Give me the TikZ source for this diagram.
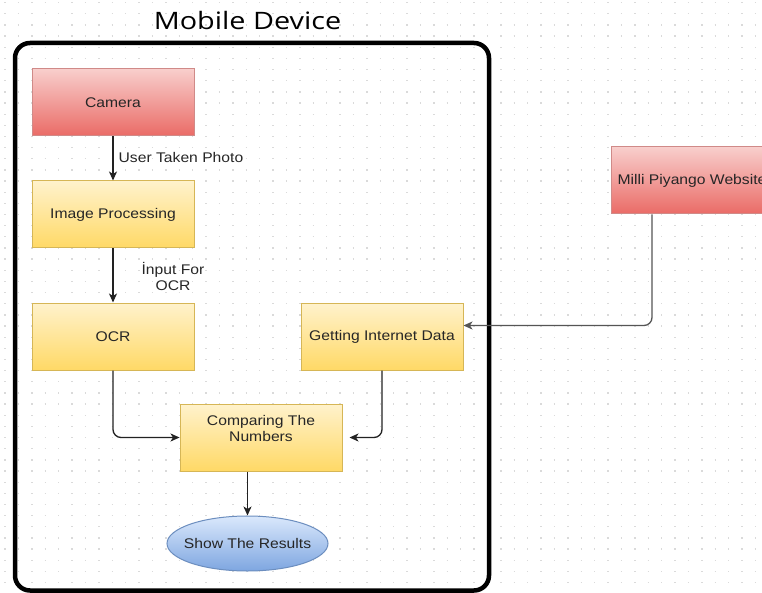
\documentclass[tikz,border=0pt]{standalone}
\usepackage{fontspec}
\setmainfont{Liberation Sans}[FakeStretch=1.12]
\newfontfamily\titlefont{Open Sans}[FakeStretch=1.2]
\usetikzlibrary{arrows.meta,shapes.geometric}
\definecolor{redtop}{HTML}{F8CECC}
\definecolor{redbot}{HTML}{EA6B66}
\definecolor{redline}{HTML}{D08A88}
\definecolor{yeltop}{HTML}{FFF2CC}
\definecolor{yelbot}{HTML}{FFD966}
\definecolor{yelline}{HTML}{D6B656}
\definecolor{bluetop}{HTML}{DAE8FC}
\definecolor{bluebot}{HTML}{7EA6E0}
\definecolor{blueline}{HTML}{6C8EBF}
\definecolor{txt}{HTML}{262626}
\definecolor{gridc}{HTML}{DADADA}
\definecolor{conc}{HTML}{222222}
\definecolor{conb}{HTML}{555555}
\tikzset{
  every node/.style={text=txt, font=\fontsize{14}{16}\selectfont},
  basebox/.style={rectangle, minimum width=162pt, minimum height=67pt, inner sep=0pt, line width=1pt},
  redbox/.style={basebox, top color=redtop, bottom color=redbot, draw=redline},
  yelbox/.style={basebox, top color=yeltop, bottom color=yelbot, draw=yelline},
  bluell/.style={ellipse, minimum width=161pt, minimum height=55pt, inner sep=0pt, line width=1pt, top color=bluetop, bottom color=bluebot, draw=blueline},
  conn/.style={draw=conc, line width=1.3pt, -{Stealth[length=9pt,width=8pt,inset=2.5pt]}},
  connb/.style={draw=conb, line width=1.3pt, rounded corners=8pt, -{Stealth[length=9pt,width=8pt,inset=2.5pt]}},
  edgelabel/.style={inner sep=0pt, align=center}
}
\begin{document}
\begin{tikzpicture}[x=1pt,y=-1pt]
\useasboundingbox (0,0) rectangle (762,593);
\clip (0,0) rectangle (762,593);
\fill[white] (0,0) rectangle (762,593);
% dotted grid
\foreach \k in {0,...,52}{
  \draw[gridc, line width=1.3pt, dash pattern=on 1.3pt off 12.1pt] (4.4,{2.7+11.15*\k}) -- (762,{2.7+11.15*\k});
}
% container
\draw[line width=4.5pt, rounded corners=15pt] (15,43) rectangle (489,590.5);
\node[font=\titlefont\fontsize{24}{26}\selectfont, text=black] (title) at (247.5,21) {Mobile Device};
% nodes
\node[redbox] (cam) at (113,102.5) {Camera};
\node[yelbox] (ip) at (113,214.5) {Image Processing};
\node[yelbox] (ocr) at (113,336.5) {OCR};
\node[yelbox] (gid) at (382,336.5) {Getting Internet Data};
\node[yelbox, label={[edgelabel, anchor=north, yshift=-12pt]north:Comparing The\\Numbers}] (cmp) at (261,437.5) {};
\node[bluell] (res) at (247.5,543.5) {\makebox[0pt]{Show The Results}};
\node[redbox] (mp) at (692,180.5) {Milli Piyango Website};
% connectors
\draw[conn] (cam) -- node[edgelabel, anchor=west, xshift=5pt, yshift=-1pt, pos=0.45] {User Taken Photo} (ip);
\draw[conn] (ip) -- node[edgelabel, anchor=center, xshift=60pt, yshift=-4pt, pos=0.45] {İnput For\\OCR} (ocr);
\draw[conn, rounded corners=8pt] (ocr.south) |- (cmp.west);
\draw[conn, rounded corners=8pt, shorten >=7pt] (gid.south) |- (cmp.east);
\draw[conn] (cmp.south -| res.north) -- (res.north);
\draw[connb] ([xshift=-40pt]mp.south) |- ([yshift=11pt]gid.east);
\end{tikzpicture}
\end{document}
